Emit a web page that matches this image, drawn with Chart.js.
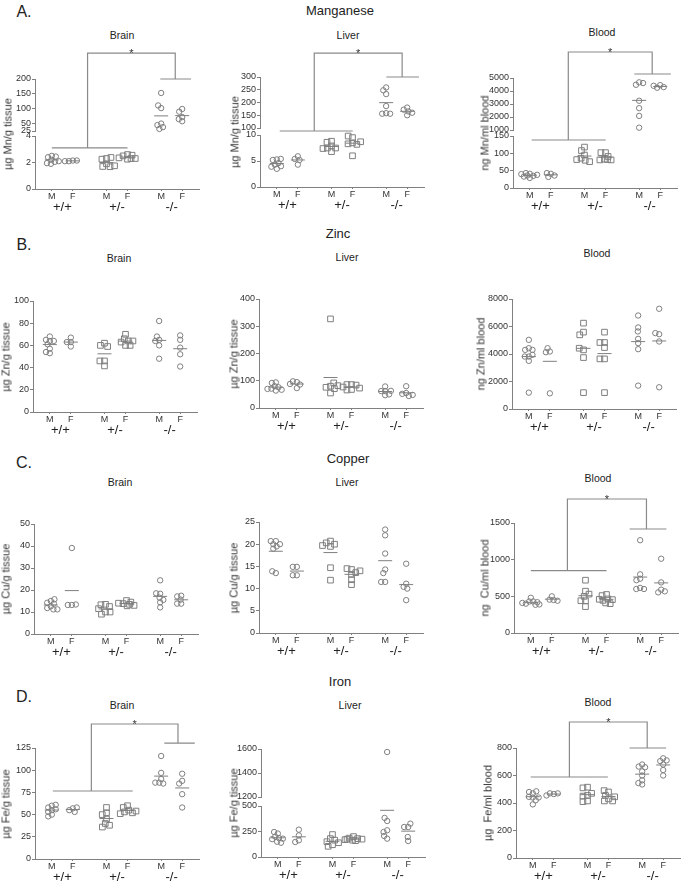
<!DOCTYPE html>
<html><head><meta charset="utf-8">
<script src="https://cdn.jsdelivr.net/npm/chart.js@4.4.0/dist/chart.umd.min.js"></script>
<style>
html,body{margin:0;padding:0;background:#fff}
body{width:683px;height:882px;position:relative;overflow:hidden;font-family:"Liberation Sans",Arial,sans-serif;color:#222}
.t{position:absolute;white-space:nowrap;transform:translate(-50%,-50%);line-height:1}
.yt{position:absolute;white-space:pre;transform:translate(-50%,-50%) rotate(-90deg);line-height:1;font-size:11px;color:#333;font-weight:normal}
canvas{position:absolute}
</style></head><body>
<script>
// ---------------- DATA ----------------
const categories = ['M','F','M','F','M','F'];
const genotypes = ['+/+','+/-','-/-'];

// groups: [M +/+, F +/+, M +/-, F +/-, M -/-, F -/-]
const mnBrain = [
  [2.5, 2.4, 2.45, 2.2, 2.05, 1.9, 1.95, 2.1],
  [2.15, 2.1, 2.15, 2.1],
  [2.3, 2.25, 2.38, 1.9, 1.7, 1.68, 1.75],
  [2.6, 2.5, 2.55, 2.3, 2.25, 2.35, 2.3],
  [153, 102, 111, 50, 45, 38, 32],
  [99, 90, 72, 58, 65]
];
const mnLiver = [
  [5.3, 5.2, 5.4, 4.6, 4.3, 4.0, 3.5, 3.9],
  [5.9, 5.4, 5.2, 4.3],
  [8.8, 8.6, 7.9, 7.5, 7.5, 6.8, 7.4],
  [9.5, 9.8, 8.5, 8.3, 8.2, 8.7, 6.0],
  [259, 248, 233, 186, 158, 156, 156],
  [180, 172, 165, 150, 160]
];
const mnBlood = [
  [41, 43, 35, 38, 33, 29, 36, 40],
  [41, 43, 32, 36],
  [118, 108, 95, 86, 80, 76, 82],
  [102, 102, 91, 83, 81, 81, 82],
  [4665, 4480, 4610, 3250, 2680, 2085, 1180],
  [4450, 4250, 4300, 4400]
];
const znBrain = [
  [64, 65, 64, 68, 57, 53, 54, 61],
  [67, 63, 63, 59],
  [62, 60, 59, 46, 46, 41.5],
  [70, 66, 64, 63, 64, 60, 60],
  [82, 65, 68, 64, 60, 48],
  [69, 65, 58, 52, 41]
];
const znLiver = [
  [94, 80, 76, 92, 71, 64, 67, 70],
  [95, 98, 86, 88, 73],
  [327, 80, 76, 92, 71, 55, 82],
  [86, 86, 84, 77, 73, 68, 66],
  [79, 62, 62, 47, 50, 63],
  [80, 55, 52, 44, 48]
];
const znBlood = [
  [5030, 4420, 4300, 4300, 3815, 3815, 3940, 3500, 1190],
  [4180, 4130, 4420, 1140],
  [6245, 5590, 5395, 4300, 4420, 3740, 1190],
  [5590, 4835, 4835, 4470, 3645, 3645, 1190],
  [6800, 5930, 5640, 5100, 4790, 4350, 1700],
  [7290, 5440, 5520, 4910, 1580]
];
const cuBrain = [
  [15, 14.2, 15.8, 12.6, 11.8, 11.2, 11.2, 13.8],
  [39.1, 13.2, 13.2, 13.4],
  [13.5, 13.3, 12.5, 10, 9, 10, 11.5],
  [15.2, 13.8, 14.5, 12.8, 13, 14, 13.5],
  [24.4, 18.3, 18.5, 16.5, 14.4, 15.5, 12.1],
  [17.4, 17.1, 15.6, 13.8, 13.8]
];
const cuLiver = [
  [20.7, 20, 19.5, 20, 20.7, 19, 13.5, 13.9],
  [14.9, 14.9, 13, 13],
  [20.7, 20.3, 19.5, 20, 14.7, 11.9, 19.7],
  [14.3, 14.5, 13.2, 13.6, 12, 10.9, 14],
  [23.3, 22, 17.9, 14.3, 13.5, 11.5, 11.5],
  [15.6, 11.1, 10.4, 10, 7.4]
];
const cuBlood = [
  [480, 430, 430, 400, 385, 390, 410, 420],
  [500, 455, 450, 440],
  [720, 570, 440, 440, 360, 500, 530],
  [525, 510, 465, 455, 460, 410, 400, 445],
  [1265, 800, 740, 720, 615, 600, 600],
  [1013, 690, 591, 554, 568]
];
const feBrain = [
  [60, 58, 61, 55, 53, 50, 48, 56],
  [57, 55, 58, 53],
  [58, 52, 50, 45, 40, 38, 36],
  [60, 58, 55, 53, 52, 51, 54],
  [116, 97, 90, 86, 85, 86],
  [96, 88, 85, 73, 58]
];
const feLiver = [
  [230, 245, 200, 185, 180, 150, 140, 175],
  [268, 212, 164, 147],
  [220, 180, 165, 150, 140, 120, 105],
  [200, 185, 180, 175, 170, 165, 160, 175],
  [1575, 353, 383, 262, 245, 180, 206],
  [294, 294, 327, 157, 196]
];
const feBlood = [
  [470, 480, 485, 440, 445, 420, 390, 440],
  [465, 470, 470, 455],
  [515, 510, 455, 450, 470, 415, 410],
  [480, 490, 455, 430, 415, 415, 445],
  [680, 665, 660, 630, 600, 565, 535, 545],
  [725, 705, 710, 680, 640, 600]
];

// tick labels
const mnBrainTicksLow = [0, 2, 4];
const mnBrainTicksHigh = [25, 50, 100, 150, 200];
const mnLiverTicksLow = [0, 5, 10];
const mnLiverTicksHigh = [100, 150, 200, 250, 300];
const mnBloodTicksLow = [0, 50, 100, 150];
const mnBloodTicksHigh = [1000, 2000, 3000, 4000, 5000];
const znBrainTicks = [0, 20, 40, 60, 80, 100];
const znLiverTicks = [0, 100, 200, 300, 400];
const znBloodTicks = [0, 2000, 4000, 6000, 8000];
const cuBrainTicks = [0, 10, 20, 30, 40, 50];
const cuLiverTicks = [0, 5, 10, 15, 20, 25];
const cuBloodTicks = [0, 500, 1000, 1500];
const feBrainTicks = [0, 25, 50, 75, 100, 125];
const feLiverTicksLow = [0, 250, 500];
const feLiverTicksHigh = [1200, 1400, 1600];
const feBloodTicks = [0, 200, 400, 600, 800];

// significance brackets (data units): left/right arms, top level
const mnBrainBracket = {lx:[0,3.6], ly:[3.1,0], lm:1.7, rx:[5.16,6.62], ry:[200,1], rm:5.87, top:[287,1]};
const mnLiverBracket = {lx:[0.14,3.61], ly:[10.77,0], lm:1.78, rx:[5.21,6.76], ry:[300,1], rm:5.96, top:[394,1]};
const mnBloodBracket = {lx:[0.09,3.61], ly:[138.5,0], lm:1.83, rx:[4.97,6.71], ry:[5308,1], rm:5.82, top:[7000,1]};
const cuBloodBracket = {lx:[0,3.6], ly:[850,0], lm:1.74, rx:[4.7,6.45], ry:[1418,0], rm:5.5, top:[1827,0]};
const feBrainBracket = {lx:[0.05,3.85], ly:[76.6,0], lm:1.88, rx:[5.35,6.8], ry:[130.6,0], rm:6.0, top:[152,0]};
const feBloodBracket = {lx:[-0.1,3.57], ly:[589,0], lm:1.74, rx:[4.6,6.34], ry:[800,0], rm:5.44, top:[989,0]};

// ---------------- LAYOUT / STYLE ----------------
Chart.defaults.font.family = '"Liberation Sans", Arial, sans-serif';
Chart.defaults.color = '#222';
Chart.defaults.animation = false;

const GRAY = '#7f7f7f';
const AXIS = '#808080';
const X_MIN = -0.8, X_MAX = 7.0, UNIT = 21.3;
const CAT_X = [0, 1, 2.6, 3.6, 5.2, 6.2];
const GROUP_X = [0.5, 3.1, 5.7];

const headings = [
  ['A.', 24, 12, 16], ['Manganese', 340, 10, 13], ['Brain', 122, 35, 10.5], ['Liver', 348, 35, 10.5], ['Blood', 602, 32, 10.5],
  ['B.', 24, 245, 16], ['Zinc', 338, 233, 13], ['Brain', 119, 258, 10.5], ['Liver', 347, 257, 10.5], ['Blood', 597, 253, 10.5],
  ['C.', 24, 463, 16], ['Copper', 348, 458, 13], ['Brain', 120, 482, 10.5], ['Liver', 347, 482, 10.5], ['Blood', 598, 478, 10.5],
  ['D.', 24, 697, 16], ['Iron', 340, 681, 13], ['Brain', 122, 705, 10.5], ['Liver', 350, 705, 10.5], ['Blood', 598, 702, 10.5]
];
headings.forEach(([txt, x, y, s]) => {
  const d = document.createElement('div');
  d.className = 't'; d.textContent = txt;
  d.style.left = x + 'px'; d.style.top = y + 'px'; d.style.fontSize = s + 'px';
  document.body.appendChild(d);
});

function mean(a) { return a.reduce((s, v) => s + v, 0) / a.length; }

// compact beeswarm: nudge overlapping points sideways, limited spread
function swarm(pys, D, maxDx) {
  const placed = [], out = [];
  pys.forEach((y, i) => {
    const cands = [0];
    placed.forEach(q => {
      const dy = Math.abs(q.y - y);
      if (dy < D) { const w = Math.sqrt(D * D - dy * dy); cands.push(q.x - w, q.x + w); }
    });
    cands.sort((a, b) => Math.abs(a) - Math.abs(b));
    let best = null;
    for (const c of cands) {
      if (Math.abs(c) > maxDx) continue;
      if (placed.every(q => (q.x - c) ** 2 + (q.y - y) ** 2 >= D * D - 0.01)) { best = c; break; }
    }
    if (best === null) {
      // pick the candidate within limits with the largest clearance
      let bestGap = -1; best = 0;
      for (let c = -maxDx; c <= maxDx; c += 0.5) {
        const gap = Math.min(...placed.map(q => (q.x - c) ** 2 + (q.y - y) ** 2));
        if (gap > bestGap) { bestGap = gap; best = c; }
      }
    }
    placed.push({x: best, y}); out[i] = best;
  });
  return out;
}

function panel(p) {
  const Wy = 30, H1 = 11, H2 = 17, padTop = 48, padRight = 6, padBottom = 2;
  const segs = p.segs;
  const plotTop = segs[segs.length - 1].top, plotBottom = segs[0].bottom;
  const plotW = (X_MAX - X_MIN) * UNIT;
  const left = p.axisX - Wy, top = plotTop - padTop;
  const W = Math.round(Wy + plotW + padRight);
  const H = Math.round(padTop + (plotBottom - plotTop) + H1 + H2 + padBottom);
  const cv = document.createElement('canvas');
  cv.width = W; cv.height = H;
  cv.style.left = left + 'px'; cv.style.top = top + 'px';
  cv.style.width = W + 'px'; cv.style.height = H + 'px';
  document.body.appendChild(cv);

  const t = document.createElement('div');
  t.className = 'yt'; t.textContent = p.yTitle;
  t.style.left = p.titleX + 'px'; t.style.top = ((plotTop + plotBottom) / 2) + 'px';
  document.body.appendChild(t);

  const yTicks = {font: {size: 9}, color: '#333', padding: 1, autoSkip: false, callback: v => String(v)};
  const yGrid = {drawOnChartArea: false, drawTicks: true, tickLength: 3, color: AXIS};
  const yBorder = {display: true, color: AXIS, width: 1};
  const fitY = s => { s.width = Wy; };
  const scales = {
    x: {
      type: 'linear', min: X_MIN, max: X_MAX, position: 'bottom',
      afterBuildTicks: s => { s.ticks = CAT_X.map(v => ({value: v})); },
      afterFit: s => { s.height = H1; },
      ticks: {font: {size: 9}, color: '#333', padding: 0, autoSkip: false, maxRotation: 0,
              callback: (v, i) => categories[i]},
      grid: {drawOnChartArea: false, drawTicks: true, tickLength: 2, color: AXIS},
      border: {display: true, color: AXIS, width: 1}
    },
    x2: {
      type: 'linear', min: X_MIN, max: X_MAX, position: 'bottom',
      afterBuildTicks: s => { s.ticks = GROUP_X.map(v => ({value: v})); },
      afterFit: s => { s.height = H2; },
      ticks: {font: {size: 13}, color: '#222', padding: 0, autoSkip: false, maxRotation: 0,
              callback: (v, i) => genotypes[i]},
      grid: {display: false, drawTicks: false},
      border: {display: false}
    }
  };
  const yIds = [];
  const mkY = (sg, extra) => Object.assign({
    type: 'linear', position: 'left', min: sg.min, max: sg.max,
    afterBuildTicks: s => { s.ticks = sg.ticks.map(v => ({value: v})); },
    afterFit: fitY, ticks: yTicks, grid: yGrid, border: yBorder
  }, extra || {});
  if (segs.length === 1) {
    scales.y = mkY(segs[0]);
    yIds.push('y');
  } else {
    scales.yLow = mkY(segs[0], {stack: 'v', stackWeight: segs[0].bottom - segs[0].top});
    scales.yGap = {type: 'linear', position: 'left', min: 0, max: 1, stack: 'v',
      stackWeight: segs[0].top - segs[1].bottom, afterFit: fitY,
      ticks: {display: false}, grid: {display: false}, border: {display: false}};
    scales.yHigh = mkY(segs[1], {stack: 'v', stackWeight: segs[1].bottom - segs[1].top});
    yIds.push('yLow', 'yHigh');
  }
  const segIndex = v => (segs.length === 1 ? 0 : (v > segs[0].max ? 1 : 0));

  const datasets = [];
  const groupPts = [];
  p.data.forEach((vals, g) => {
    const square = (g === 2 || g === 3);
    const style = square ? 'rect' : 'circle';
    const r = square ? 4.0 : 2.7;
    const bySeg = segs.map(() => []);
    const items = [];
    vals.forEach(v => {
      const s = segIndex(v);
      const pt = {x: CAT_X[g], y: v};
      bySeg[s].push(pt); items.push({pt, axis: yIds[s]});
    });
    groupPts.push({items, g, D: square ? 4.6 : 4.0});
    bySeg.forEach((pts, s) => {
      if (!pts.length) return;
      datasets.push({type: 'scatter', data: pts, yAxisID: yIds[s], pointStyle: style,
        pointRadius: r, pointHoverRadius: r, pointBorderColor: GRAY,
        pointBackgroundColor: 'rgba(255,255,255,0)', pointBorderWidth: 1, showLine: false, clip: false});
    });
    const m = mean(vals);
    datasets.push({type: 'scatter', data: [{x: CAT_X[g], y: m}], yAxisID: yIds[segIndex(m)],
      pointStyle: 'line', pointRadius: 7, pointHoverRadius: 7, pointBorderColor: GRAY,
      pointBorderWidth: 1, showLine: false, clip: false});
  });

  const bracketPlugin = {
    id: 'bracket',
    afterDraw(chart) {
      const b = p.bracket; if (!b) return;
      const xs = chart.scales.x;
      const X = v => xs.getPixelForValue(v);
      const Y = a => chart.scales[yIds[a[1]]].getPixelForValue(a[0]);
      const ctx = chart.ctx;
      const ly = Y(b.ly), ry = Y(b.ry), ty = Y(b.top);
      ctx.save();
      ctx.strokeStyle = '#8a8a8a'; ctx.lineWidth = 1.2;
      ctx.beginPath();
      ctx.moveTo(X(b.lx[0]), ly); ctx.lineTo(X(b.lx[1]), ly);
      ctx.moveTo(X(b.lm), ly); ctx.lineTo(X(b.lm), ty); ctx.lineTo(X(b.rm), ty); ctx.lineTo(X(b.rm), ry);
      ctx.moveTo(X(b.rx[0]), ry); ctx.lineTo(X(b.rx[1]), ry);
      ctx.stroke();
      ctx.fillStyle = '#333'; ctx.font = '11px "Liberation Sans", Arial, sans-serif';
      ctx.textAlign = 'center'; ctx.textBaseline = 'alphabetic';
      ctx.fillText('*', (X(b.lm) + X(b.rm)) / 2, ty + 4);
      ctx.restore();
    }
  };

  const chart = new Chart(cv, {
    type: 'scatter',
    data: {datasets},
    options: {
      responsive: false, animation: false, devicePixelRatio: 1,
      layout: {padding: {top: padTop, right: padRight, bottom: padBottom, left: 0}},
      plugins: {legend: {display: false}, tooltip: {enabled: false}, title: {display: false}},
      events: [],
      scales
    },
    plugins: [bracketPlugin]
  });

  // beeswarm horizontal spread of overlapping points (pixel based)
  const xs = chart.scales.x;
  const unitPx = xs.getPixelForValue(1) - xs.getPixelForValue(0);
  groupPts.forEach(({items, g, D}) => {
    const pys = items.map(it => chart.scales[it.axis].getPixelForValue(it.pt.y));
    const dxs = swarm(pys, D, 8.5);
    items.forEach((it, i) => { it.pt.x = CAT_X[g] + dxs[i] / unitPx; });
  });
  chart.update('none');
  return chart;
}

const panels = [
  {data: mnBrain, axisX: 35, titleX: 8, yTitle: 'µg Mn/g tissue', bracket: mnBrainBracket,
   segs: [{min: 0, max: 4, ticks: mnBrainTicksLow, top: 136, bottom: 189}, {min: 25, max: 200, ticks: mnBrainTicksHigh, top: 79, bottom: 131}]},
  {data: mnLiver, axisX: 260, titleX: 235, yTitle: 'µg Mn/g tissue', bracket: mnLiverBracket,
   segs: [{min: 0, max: 10, ticks: mnLiverTicksLow, top: 135, bottom: 187}, {min: 100, max: 300, ticks: mnLiverTicksHigh, top: 77, bottom: 128}]},
  {data: mnBlood, axisX: 513, titleX: 485, yTitle: 'ng Mn/ml blood', bracket: mnBloodBracket,
   segs: [{min: 0, max: 150, ticks: mnBloodTicksLow, top: 136, bottom: 188}, {min: 1000, max: 5000, ticks: mnBloodTicksHigh, top: 78, bottom: 130}]},
  {data: znBrain, axisX: 33, titleX: 6, yTitle: 'µg Zn/g tissue',
   segs: [{min: 0, max: 100, ticks: znBrainTicks, top: 301, bottom: 412}]},
  {data: znLiver, axisX: 259, titleX: 234, yTitle: 'µg Zn/g tissue',
   segs: [{min: 0, max: 400, ticks: znLiverTicks, top: 299, bottom: 408}]},
  {data: znBlood, axisX: 512, titleX: 481, yTitle: 'ng Zn/ml blood',
   segs: [{min: 0, max: 8000, ticks: znBloodTicks, top: 299, bottom: 409}]},
  {data: cuBrain, axisX: 34, titleX: 6, yTitle: 'µg Cu/g tissue',
   segs: [{min: 0, max: 50, ticks: cuBrainTicks, top: 524, bottom: 634}]},
  {data: cuLiver, axisX: 259, titleX: 234, yTitle: 'µg Cu/g tissue',
   segs: [{min: 0, max: 25, ticks: cuLiverTicks, top: 522, bottom: 633}]},
  {data: cuBlood, axisX: 514, titleX: 485, yTitle: 'ng  Cu/ml blood', bracket: cuBloodBracket,
   segs: [{min: 0, max: 1500, ticks: cuBloodTicks, top: 523, bottom: 633}]},
  {data: feBrain, axisX: 35, titleX: 6, yTitle: 'µg Fe/g tissue', bracket: feBrainBracket,
   segs: [{min: 0, max: 125, ticks: feBrainTicks, top: 748, bottom: 859}]},
  {data: feLiver, axisX: 261, titleX: 234, yTitle: 'µg Fe/g tissue',
   segs: [{min: 0, max: 500, ticks: feLiverTicksLow, top: 806, bottom: 857}, {min: 1200, max: 1600, ticks: feLiverTicksHigh, top: 749, bottom: 797}]},
  {data: feBlood, axisX: 516, titleX: 488, yTitle: 'µg  Fe/ml blood', bracket: feBloodBracket,
   segs: [{min: 0, max: 800, ticks: feBloodTicks, top: 748, bottom: 858}]}
];
panels.forEach(panel);
</script>
</body></html>
